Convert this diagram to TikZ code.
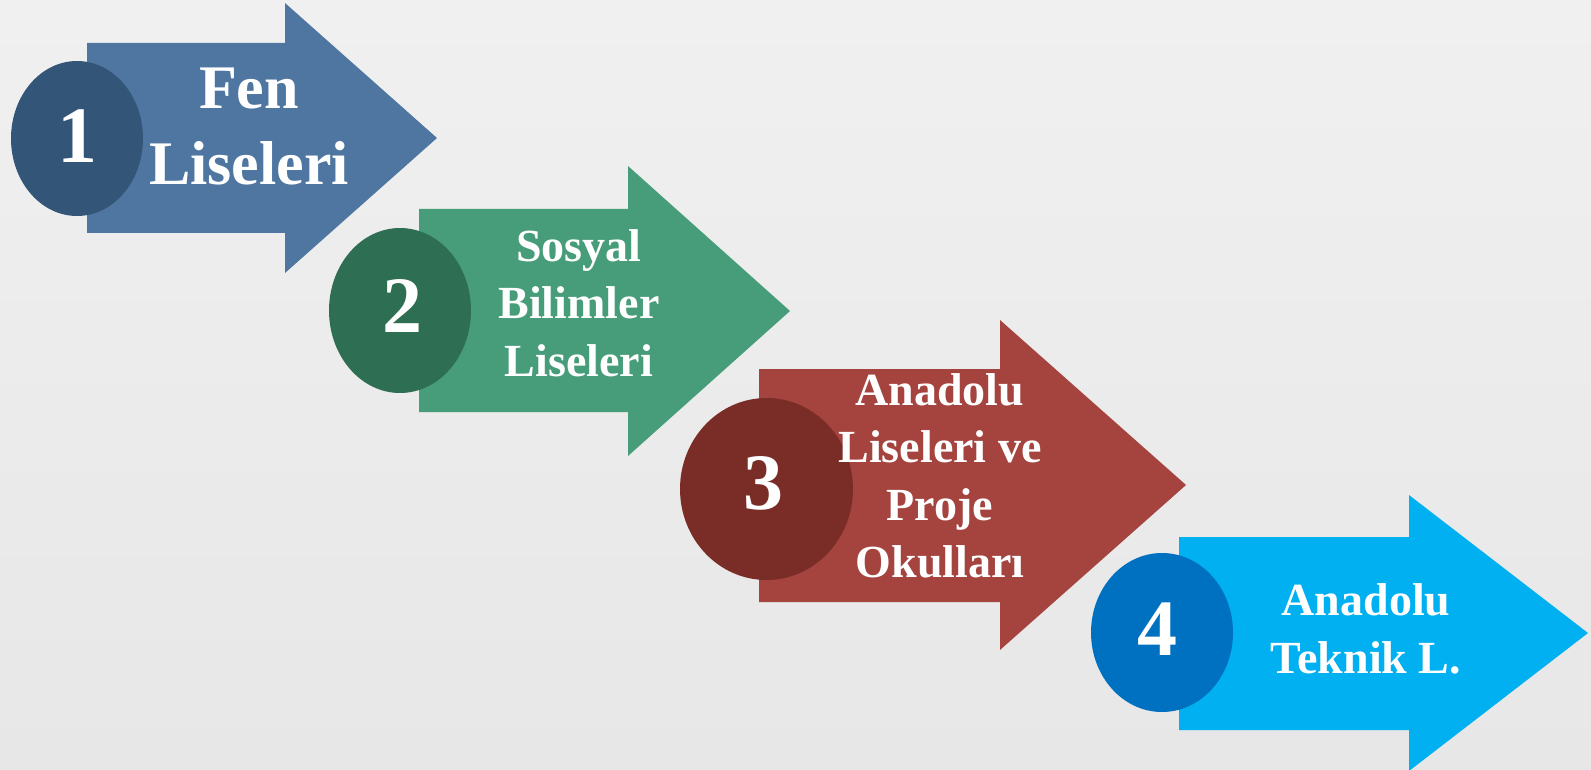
\documentclass[tikz,border=0pt]{standalone}
\usepackage{fontspec}
\setmainfont{Liberation Serif}
\begin{document}
\begin{tikzpicture}[x=1pt,y=-1pt,
  lbl/.style={text=white,font=\bfseries\fontsize{46}{57.5}\selectfont,align=center,inner sep=0pt},
  num/.style={text=white,font=\bfseries\fontsize{80}{90}\selectfont,inner sep=0pt}]
\definecolor{bgA}{HTML}{F0F0F0}
\definecolor{bgB}{HTML}{E7E7E7}
\definecolor{arA}{HTML}{4E76A1}
\definecolor{ciA}{HTML}{335578}
\definecolor{arB}{HTML}{479D79}
\definecolor{ciB}{HTML}{2E6E52}
\definecolor{arC}{HTML}{A5443F}
\definecolor{ciC}{HTML}{7A2C27}
\definecolor{arD}{HTML}{00B0F0}
\definecolor{ciD}{HTML}{0070C0}
\useasboundingbox (0,0) rectangle (1591,770);
\shade[top color=bgA,bottom color=bgB] (0,0) rectangle (1591,770);
% arrow 1
\fill[arA] (87,43) -- (285,43) -- (285,3) -- (437,138) -- (285,273) -- (285,233) -- (87,233) -- cycle;
\fill[ciA] (77,138.5) ellipse [x radius=66,y radius=77.5];
\node[num] (n1) at (77,136) {1};
\node[lbl,font=\bfseries\fontsize{62}{76}\selectfont] (t1) at (249,127) {Fen\\Liseleri};
% arrow 2
\fill[arB] (419,209) -- (628,209) -- (628,166) -- (790,311) -- (628,456) -- (628,412) -- (419,412) -- cycle;
\fill[ciB] (400,310.5) ellipse [x radius=71,y radius=82.5];
\node[num] (n2) at (402,306) {2};
\node[lbl] (t2) at (579,303) {Sosyal\\Bilimler\\Liseleri};
% arrow 3
\fill[arC] (759,369) -- (1000,369) -- (1000,320) -- (1186,485) -- (1000,650) -- (1000,602) -- (759,602) -- cycle;
\fill[ciC] (766.5,489) ellipse [x radius=86.5,y radius=91];
\node[num] (n3) at (763,483) {3};
\node[lbl] (t3) at (940,476) {Anadolu\\Liseleri ve\\Proje\\Okulları};
% arrow 4
\fill[arD] (1179,537) -- (1409,537) -- (1409,495) -- (1588,633) -- (1409,771) -- (1409,730) -- (1179,730) -- cycle;
\fill[ciD] (1162,632.5) ellipse [x radius=71,y radius=79.5];
\node[num] (n4) at (1157,629) {4};
\node[lbl] (t4) at (1366,629) {Anadolu\\Teknik L.};
\end{tikzpicture}
\end{document}
